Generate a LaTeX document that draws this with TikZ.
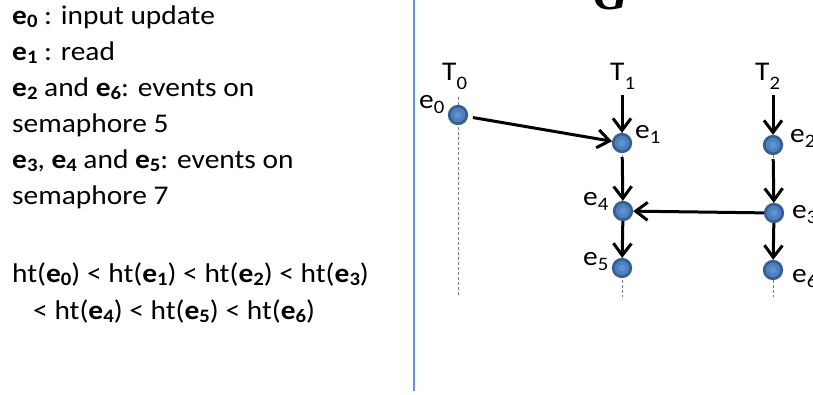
\documentclass[tikz,border=0pt]{standalone}
\usepackage{fontspec}
\setmainfont{Carlito}[FakeStretch=1.09]
\newfontfamily\titlefont{Liberation Serif}
\usetikzlibrary{arrows.meta}

\definecolor{evfill}{HTML}{4F81BD}
\definecolor{evedge}{HTML}{385F94}
\definecolor{evcore}{HTML}{5E92D2}
\definecolor{divider}{HTML}{5B93D8}

% lowered subscript and bold event name
\newcommand{\sub}[2][-3pt]{\raisebox{#1}{\fontsize{19}{19}\selectfont #2}}
\newcommand{\ev}[1]{\textbf{e\sub{#1}}}

\begin{document}
\begin{tikzpicture}[x=1pt,y=-1pt,
  every node/.style={font=\fontsize{27}{27}\selectfont,inner sep=0pt},
  event/.style={circle,fill=evfill,draw=evedge,line width=2.8pt,minimum size=17.5pt,
    path picture={\fill[evcore] (path picture bounding box.center) circle (3.5pt);}},
  order/.style={-{Straight Barb[length=12pt,width=18pt]},line width=3pt},
  lifeline/.style={gray,line width=0.6pt,dash pattern=on 3pt off 2pt}]
\useasboundingbox (0,0) rectangle (813,394);

% left: legend
\node[anchor=base west] (l1) at (12,24) {\ev{0} : input update};
\node[anchor=base west] (l2) at (12,60) {\ev{1} : read};
\node[anchor=base west] (l3) at (12,96) {\ev{2} and \ev{6}: events on};
\node[anchor=base west] (l4) at (12,132) {semaphore 5};
\node[anchor=base west] (l5) at (12,168) {\ev{3}, \ev{4} and \ev{5}: events on};
\node[anchor=base west] (l6) at (12,204) {semaphore 7};
\node[anchor=base west] (l7) at (12,282) {ht(\ev{0}) < ht(\ev{1}) < ht(\ev{2}) < ht(\ev{3})};
\node[anchor=base west] (l8) at (33,319) {< ht(\ev{4}) < ht(\ev{5}) < ht(\ev{6})};

% separator
\draw[divider,line width=1.6pt] (414,0) -- (414,391);

% title, cut by the top edge
\node[anchor=base,font=\titlefont\fontsize{48}{48}\selectfont\bfseries\itshape] (title) at (611,9) {G};

% threads
\node[anchor=base west] (T0) at (442,80) {T\sub[-9pt]{0}};
\node[anchor=base west] (T1) at (610,80) {T\sub[-9pt]{1}};
\node[anchor=base west] (T2) at (755,80) {T\sub[-9pt]{2}};

\coordinate (t0top) at (458,97);
\coordinate (t0end) at (458,297);
\coordinate (t1top) at (622,95);
\coordinate (t1end) at (622,297);
\coordinate (t2top) at (773,95);
\coordinate (t2end) at (773,297);

\draw[lifeline] (t0top) -- (t0end);
\draw[lifeline] (t1top) -- (t1end);
\draw[lifeline] (t2top) -- (t2end);

% events
\node[event] (e0) at (458,115) {};
\node[event] (e1) at (622,143) {};
\node[event] (e2) at (773,145) {};
\node[event] (e3) at (774,213) {};
\node[event] (e4) at (623,211) {};
\node[event] (e5) at (622,268) {};
\node[event] (e6) at (773,270) {};

\node[anchor=base west] (n0) at (419,108) {e\sub[-5pt]{0}};
\node[anchor=base west] (n1) at (635,138) {e\sub[-5pt]{1}};
\node[anchor=base west] (n2) at (790,142) {e\sub[-5pt]{2}};
\node[anchor=base west] (n3) at (792,218) {e\sub[-5pt]{3}};
\node[anchor=base west] (n4) at (583,205) {e\sub[-5pt]{4}};
\node[anchor=base west] (n5) at (583,265) {e\sub[-5pt]{5}};
\node[anchor=base west] (n6) at (792,282) {e\sub[-5pt]{6}};

% happens-before edges
\draw[order] (t1top) -- (e1);
\draw[order] (t2top) -- (e2);
\draw[order,shorten <=4pt] (e1) -- (e4);
\draw[order,shorten <=4pt] (e2) -- (e3);
\draw[order] (e4) -- (e5);
\draw[order] (e3) -- (e6);
\draw[order] (e3) -- (e4);
\draw[order,shorten <=5pt] (e0) -- (e1);
\end{tikzpicture}
\end{document}
